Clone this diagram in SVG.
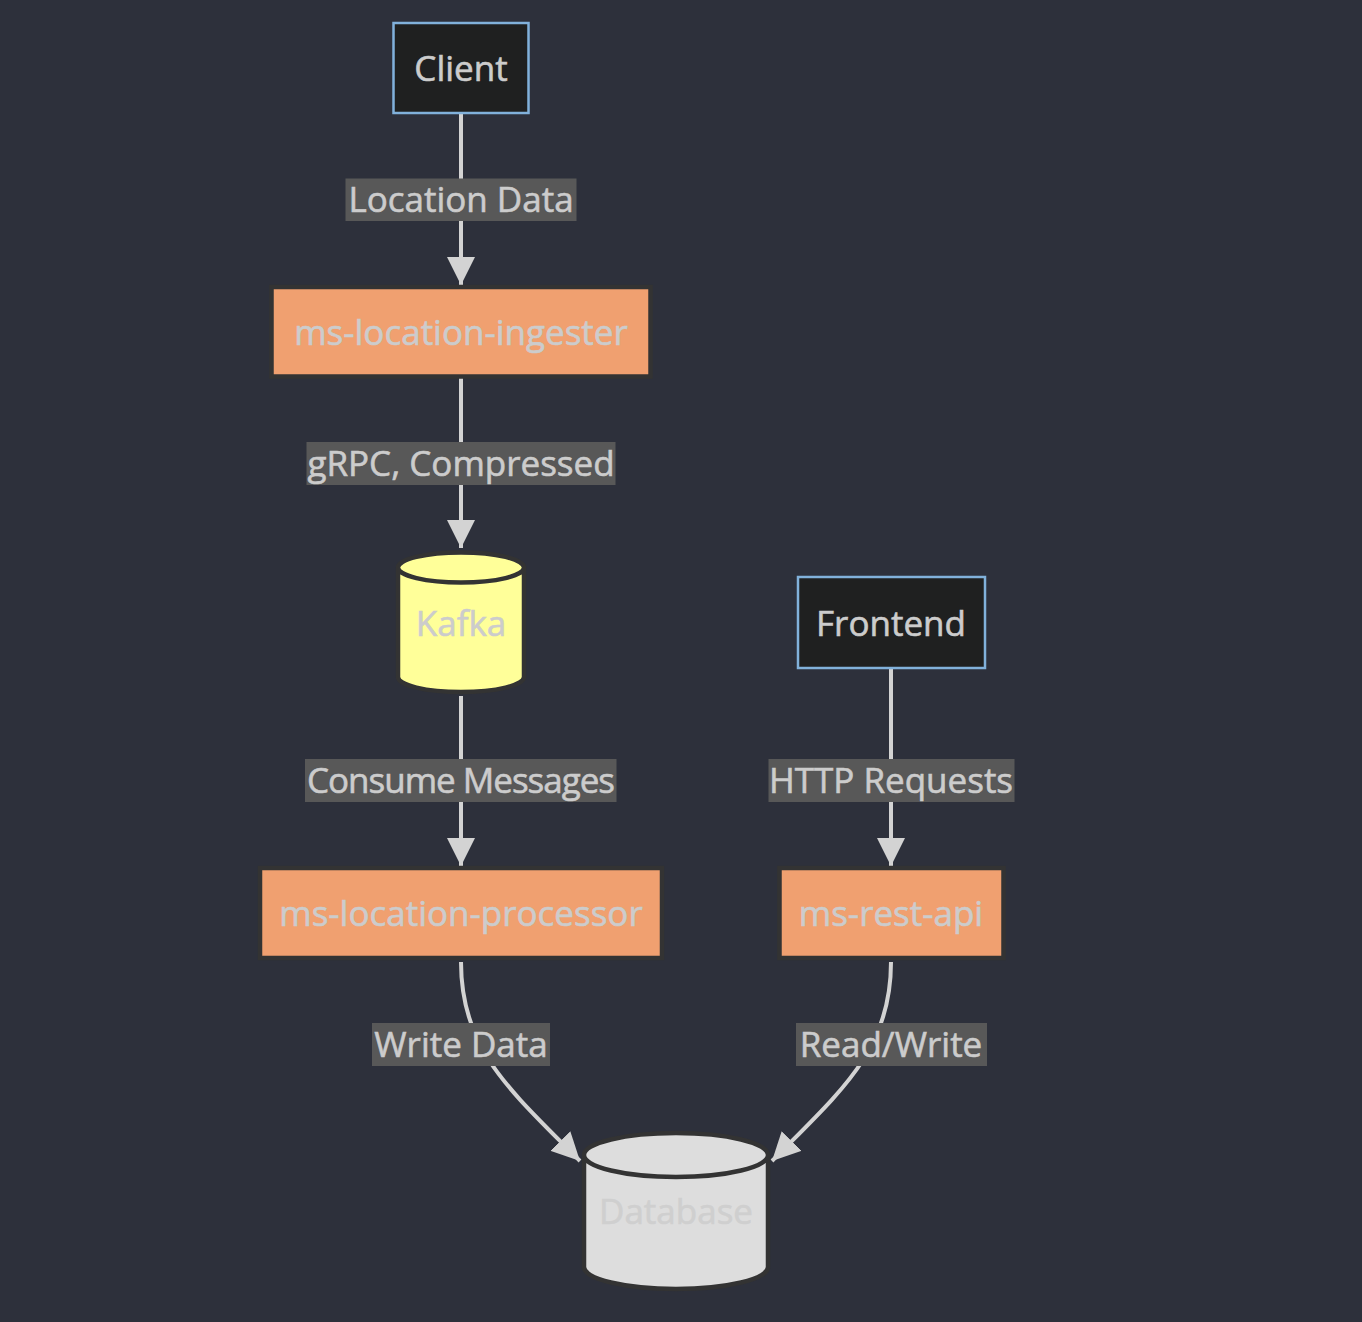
<svg xmlns="http://www.w3.org/2000/svg" width="1362" height="1322" viewBox="0 0 1362 1322">
<defs>
<marker id="arrow" viewBox="0 0 10 10" refX="10" refY="5" markerUnits="userSpaceOnUse" markerWidth="28" markerHeight="28" orient="auto">
<path d="M0,0 L10,5 L0,10 z" fill="#d3d3d3"/>
</marker>
<style>
text{font-family:"Open Sans","Liberation Sans",sans-serif;font-size:35px;text-anchor:middle;dominant-baseline:central;fill:#cccccc;stroke:#cccccc;stroke-width:0.6}
.ext{fill:#1f2020;stroke:#81b1db;stroke-width:2.5}
.svc{fill:#f0a070;stroke:#333333;stroke-width:4.5}
.kafka{fill:#ffff99;stroke:#333333;stroke-width:4.5}
.db{fill:#dddddd;stroke:#333333;stroke-width:4.5}
.edge{fill:none;stroke:#d3d3d3;stroke-width:4;marker-end:url(#arrow)}
.lblbg{fill:#585858}
text.dbtext{fill:#cfcfcf;stroke:#cfcfcf}
</style>
</defs>
<rect width="1362" height="1322" fill="#2d303b"/>
<g id="connectors">
<path class="edge" d="M461,114 L461,285"/>
<path class="edge" d="M461,378 L461,548"/>
<path class="edge" d="M461,696 L461,866"/>
<path class="edge" d="M891,668 L891,866"/>
<path class="edge" d="M461,962 C461,1050 510,1090 580,1161"/>
<path class="edge" d="M891,962 C891,1050 842,1090 772,1161"/>
<g id="edge-labels">
<rect class="lblbg" x="345.5" y="178.5" width="231" height="42.5"/>
<text x="461" y="198.5">Location Data</text>
<rect class="lblbg" x="306.5" y="442" width="309" height="43"/>
<text x="461" y="462.5">gRPC, Compressed</text>
<rect class="lblbg" x="305" y="759" width="311.5" height="43"/>
<text x="461" y="779.5" textLength="308">Consume Messages</text>
<rect class="lblbg" x="768.5" y="759" width="246" height="43"/>
<text x="891" y="779.5">HTTP Requests</text>
<rect class="lblbg" x="372" y="1023" width="178" height="43"/>
<text x="461" y="1043.5">Write Data</text>
<rect class="lblbg" x="796" y="1023" width="191" height="43"/>
<text x="891" y="1043.5">Read/Write</text>
</g>
</g>
<g id="node-client">
<rect class="ext" x="393.5" y="23" width="135" height="90"/>
<text x="461" y="67">Client</text>
</g>
<g id="node-ingester">
<rect class="svc" x="271.5" y="287" width="379" height="89.5"/>
<text x="461" y="331">ms-location-ingester</text>
</g>
<g id="node-kafka">
<path class="kafka" d="M398,567.5 a63,15 0 0,0 126,0 a63,15 0 0,0 -126,0 l0,109.5 a63,15 0 0,0 126,0 l0,-109.5"/>
<text x="461" y="622">Kafka</text>
</g>
<g id="node-frontend">
<rect class="ext" x="798" y="577" width="187" height="91"/>
<text x="891" y="622">Frontend</text>
</g>
<g id="node-processor">
<rect class="svc" x="260" y="868" width="402" height="90"/>
<text x="461" y="912">ms-location-processor</text>
</g>
<g id="node-restapi">
<rect class="svc" x="779.5" y="868" width="224" height="90"/>
<text x="891" y="912">ms-rest-api</text>
</g>
<g id="node-database">
<path class="db" d="M584,1155 a92,22 0 0,0 184,0 a92,22 0 0,0 -184,0 l0,112 a92,22 0 0,0 184,0 l0,-112"/>
<text class="dbtext" x="676" y="1210">Database</text>
</g>
</svg>
